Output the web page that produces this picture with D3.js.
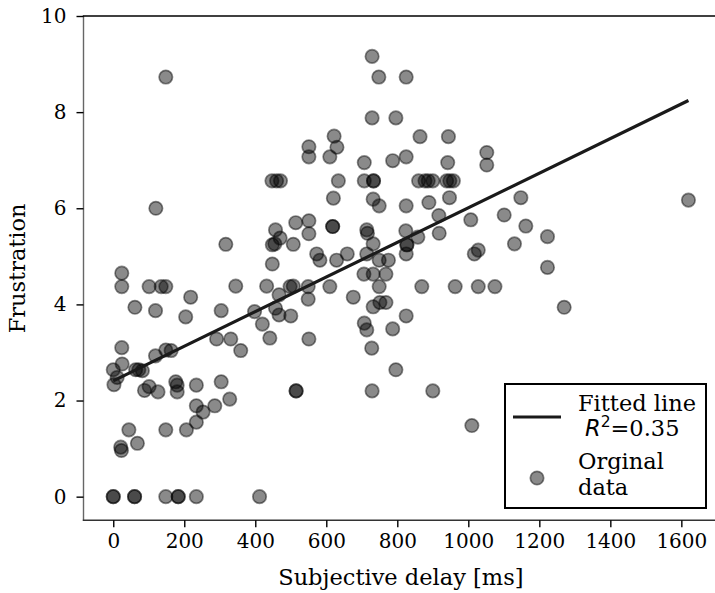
<!DOCTYPE html>
<html>
<head>
<meta charset="utf-8">
<script src="https://cdnjs.cloudflare.com/ajax/libs/d3/7.8.5/d3.min.js"></script>
<style>
  body { margin: 0; background: #fff; }
  svg { display: block; }
  text { font-family: "DejaVu Serif", serif; fill: #000; }
</style>
</head>
<body>
<svg id="chart"></svg>
<script>
// Subjective delay [ms] and frustration per participant
const delayMs = [
  0, 0, 60, 60, 148, 183, 183, 234, 412,
  0, 25, 11, 2, 63, 72, 82, 101, 88, 126, 176, 180, 180, 234, 304, 328, 286, 234, 253, 234, 206, 148, 44, 68, 21, 23,
  457, 455, 448, 317, 448, 24, 24, 101, 135, 148, 345, 432, 467, 218, 61, 119, 204, 304, 398, 457, 467, 420, 441, 291, 331, 359, 24, 119, 148, 163, 120, 148, 447, 460, 471,
  551, 551, 610, 630, 622, 707, 787, 825, 942, 634, 707, 733, 733, 860, 878, 887, 900, 939, 948, 958,
  620, 732, 749, 825, 889, 947, 917, 1007, 618, 618, 514, 551, 551, 470, 507, 714, 716, 824, 858, 918,
  827, 827, 732, 573, 582, 629, 659, 714, 749, 775, 825, 1017, 1028, 706, 732, 768,
  498, 507, 549, 610, 749, 869, 963, 1028, 1075, 549, 676, 732, 751, 768, 500, 707, 714, 787, 825, 551, 728,
  864, 944, 1052, 1052, 1148, 1101, 1162, 1223, 1130, 1223, 1270, 900, 1010, 1620,
  729, 748, 825, 729, 796, 515, 515, 729, 796
];
const frustration = [
  0, 0, 0, 0, 0, 0, 0, 0, 0,
  2.64, 2.76, 2.48, 2.33, 2.64, 2.64, 2.62, 2.29, 2.21, 2.18, 2.39, 2.32, 2.18, 2.32, 2.39, 2.03, 1.89, 1.89, 1.76, 1.55, 1.39, 1.39, 1.39, 1.11, 1.03, 0.96,
  5.55, 5.26, 5.24, 5.25, 4.84, 4.65, 4.37, 4.37, 4.37, 4.37, 4.38, 4.38, 4.20, 4.15, 3.94, 3.87, 3.74, 3.87, 3.85, 3.92, 3.78, 3.59, 3.30, 3.28, 3.28, 3.04, 3.10, 2.93, 3.05, 3.04, 6.00, 8.73, 6.57, 6.57, 6.57,
  7.28, 7.07, 7.07, 7.27, 7.50, 6.95, 6.99, 7.07, 6.95, 6.57, 6.57, 6.57, 6.57, 6.57, 6.57, 6.57, 6.57, 6.57, 6.57, 6.57,
  6.21, 6.19, 6.05, 6.05, 6.12, 6.22, 5.85, 5.76, 5.62, 5.62, 5.70, 5.74, 5.47, 5.38, 5.25, 5.55, 5.48, 5.53, 5.40, 5.48,
  5.24, 5.24, 5.26, 5.05, 4.92, 4.92, 5.05, 5.05, 4.92, 4.92, 5.05, 5.05, 5.13, 4.63, 4.63, 4.63,
  4.37, 4.38, 4.37, 4.37, 4.37, 4.37, 4.37, 4.37, 4.37, 4.11, 4.15, 3.95, 4.04, 4.04, 3.76, 3.61, 3.47, 3.49, 3.76, 3.28, 3.09,
  7.49, 7.49, 7.16, 6.90, 6.22, 5.86, 5.63, 5.41, 5.26, 4.77, 3.94, 2.20, 1.48, 6.17,
  9.16, 8.73, 8.73, 7.88, 7.88, 2.20, 2.20, 2.20, 2.64
];

// Linear fit shown in the chart
const fitIntercept = 2.41;
const fitSlope = 0.0036;
const fitLabel = "0.35";

const xTicks = [0, 200, 400, 600, 800, 1000, 1200, 1400, 1600];
const yTicks = [0, 2, 4, 6, 8, 10];

const width = 715;
const height = 593;
const tickFont = 20;
const labelFont = 22.5;

const svg = d3.select("#chart")
    .attr("width", width)
    .attr("height", height);

// axes frame (right side falls just outside the picture)
const plotLeft = 84.5, plotRight = 717.2, plotTop = 16, plotBottom = 520.7;

const x = d3.scaleLinear().domain([-81, 1701]).range([plotLeft, plotRight]);
const y = d3.scaleLinear().domain([-0.5, 10]).range([plotBottom, plotTop]);

const points = delayMs.map((d, i) => ({ x: d, y: frustration[i] }));

// scatter
svg.append("g")
  .selectAll("circle")
  .data(points)
  .enter().append("circle")
    .attr("cx", d => x(d.x))
    .attr("cy", d => y(d.y))
    .attr("r", 6.7)
    .attr("fill", "rgba(0,0,0,0.46)")
    .attr("stroke", "rgba(0,0,0,0.46)")
    .attr("stroke-width", 1.7);

// fitted line over the data range
const xExt = d3.extent(delayMs);
svg.append("line")
    .attr("x1", x(xExt[0]))
    .attr("y1", y(fitIntercept + fitSlope * xExt[0]))
    .attr("x2", x(xExt[1]))
    .attr("y2", y(fitIntercept + fitSlope * xExt[1]))
    .attr("stroke", "#1a1a1a")
    .attr("stroke-width", 3.2);

// spines
svg.append("line").attr("x1", plotLeft - 1).attr("x2", plotLeft - 1)
    .attr("y1", plotTop).attr("y2", plotBottom)
    .attr("stroke", "#666").attr("stroke-width", 1.4);
svg.append("line").attr("x1", plotLeft - 1.7).attr("x2", width)
    .attr("y1", plotTop).attr("y2", plotTop)
    .attr("stroke", "#000").attr("stroke-width", 1.4);
svg.append("line").attr("x1", plotLeft - 1.7).attr("x2", width)
    .attr("y1", plotBottom - 0.5).attr("y2", plotBottom - 0.5)
    .attr("stroke", "#333").attr("stroke-width", 1.4);

// axes
const xAxis = svg.append("g")
    .attr("transform", `translate(0,${plotBottom - 0.5})`)
    .call(d3.axisBottom(x).tickValues(xTicks).tickSize(7).tickPadding(7).tickFormat(d3.format("d")));
const yAxis = svg.append("g")
    .attr("transform", `translate(${plotLeft - 1},0)`)
    .call(d3.axisLeft(y).tickValues(yTicks).tickSize(7).tickPadding(10).tickFormat(d3.format("d")));

[xAxis, yAxis].forEach(g => {
  g.select(".domain").remove();
  g.selectAll(".tick line").attr("stroke", "#000").attr("stroke-width", 1.4);
  g.selectAll(".tick text")
    .attr("font-family", "DejaVu Serif")
    .attr("font-size", tickFont)
    .attr("fill", "#000");
});

// axis titles
svg.append("text")
    .attr("x", (plotLeft + plotRight) / 2)
    .attr("y", 585)
    .attr("text-anchor", "middle")
    .attr("font-size", labelFont)
    .text("Subjective delay [ms]");

svg.append("text")
    .attr("transform", `translate(25,${(plotTop + plotBottom) / 2}) rotate(-90)`)
    .attr("text-anchor", "middle")
    .attr("font-size", labelFont)
    .text("Frustration");

// legend
const legend = svg.append("g");
legend.append("rect")
    .attr("x", 505).attr("y", 384)
    .attr("width", 201).attr("height", 124)
    .attr("fill", "#fff")
    .attr("stroke", "#000")
    .attr("stroke-width", 2);

legend.append("line")
    .attr("x1", 513).attr("x2", 561)
    .attr("y1", 417).attr("y2", 417)
    .attr("stroke", "#1a1a1a").attr("stroke-width", 3.2);

legend.append("text")
    .attr("x", 578).attr("y", 411)
    .attr("font-size", labelFont)
    .text("Fitted line");

const r2 = legend.append("text")
    .attr("x", 585).attr("y", 436)
    .attr("font-size", labelFont);
r2.append("tspan")
    .attr("font-family", "DejaVu Sans")
    .attr("font-style", "italic")
    .text("R");
r2.append("tspan")
    .attr("font-family", "DejaVu Sans")
    .attr("font-size", 15.5)
    .attr("dy", -9)
    .text("2");
r2.append("tspan")
    .attr("dy", 9)
    .text("=" + fitLabel);

legend.append("circle")
    .attr("cx", 537).attr("cy", 478)
    .attr("r", 6.7)
    .attr("fill", "rgba(0,0,0,0.46)")
    .attr("stroke", "rgba(0,0,0,0.46)")
    .attr("stroke-width", 1.7);

legend.append("text")
    .attr("x", 578).attr("y", 469)
    .attr("font-size", labelFont)
    .text("Orginal");
legend.append("text")
    .attr("x", 578).attr("y", 495)
    .attr("font-size", labelFont)
    .text("data");
</script>
</body>
</html>
